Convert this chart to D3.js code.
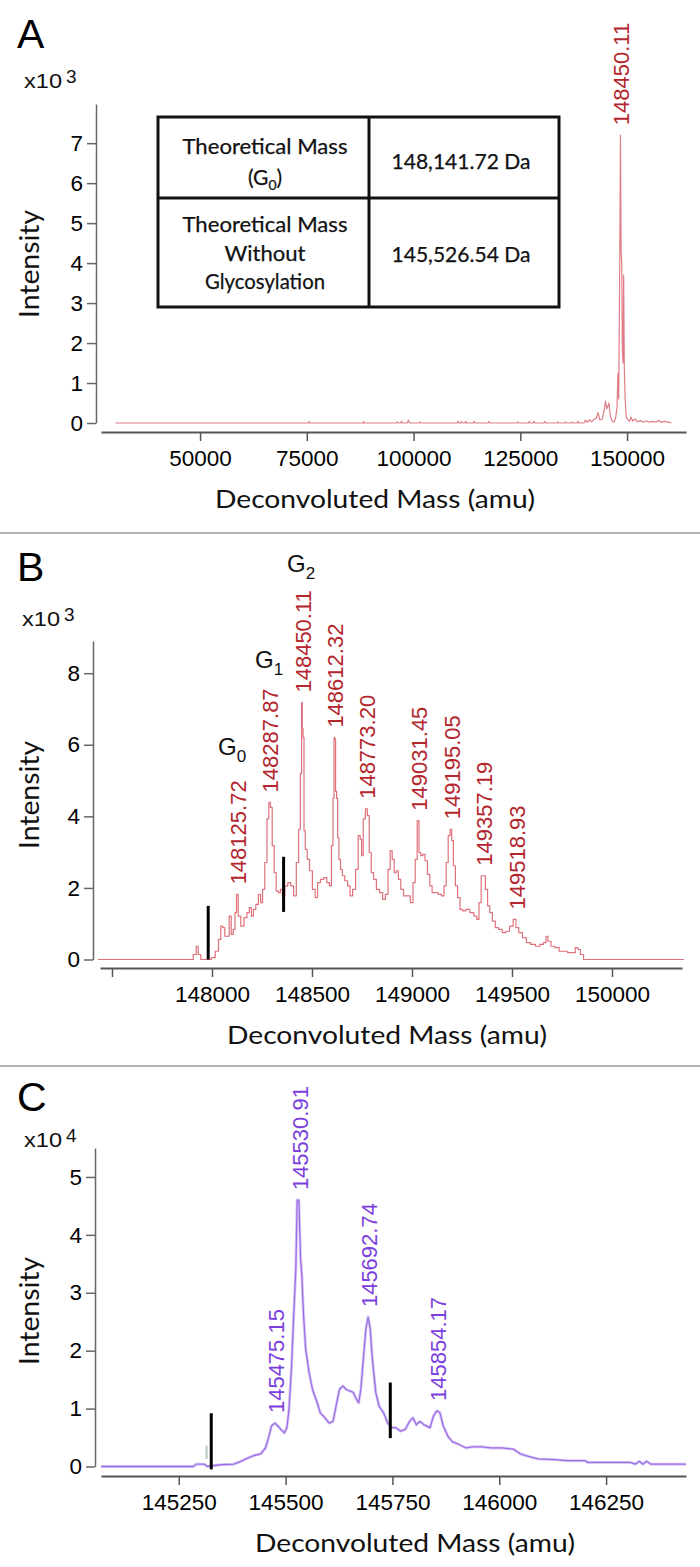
<!DOCTYPE html>
<html><head><meta charset="utf-8">
<script src="https://cdn.jsdelivr.net/npm/d3@7"></script>
<style>body{margin:0;background:#fff}svg{display:block}</style>
</head><body>
<script>
// ================= DATA =================
// Panel A: full deconvoluted spectrum (mass in amu, intensity in x10^3)
const massA = [30200,75400,75500,75600,88200,88300,88400,96000,96200,96400,97000,97200,97400,98500,98800,99100,101300,101500,101700,110200,110400,110600,111000,111200,111400,112000,112200,112400,114000,114200,114400,117400,117600,117800,124200,124400,124600,126900,127100,127300,128000,128200,128400,130500,130700,130900,133600,133800,134000,135400,135600,135800,136800,137000,137200,138300,138500,138700,139900,140200,140600,141200,141700,142300,142800,143200,143600,144200,144600,144950,145250,145500,145750,146050,146500,147000,147350,147650,147850,148050,148300,148450,148600,148750,148900,149050,149200,149350,149550,149800,150200,150600,150900,151300,151900,152500,153200,153800,154500,155200,156000,156800,157400,157900,158800,159600,160400];
const intA  = [0,0,0.04,0,0,0.04,0,0,0.03,0,0,0.04,0,0,0.07,0,0,0.03,0,0,0.04,0,0,0.04,0,0,0.04,0,0,0.04,0,0,0.04,0,0,0.03,0,0,0.04,0,0,0.04,0,0,0.04,0,0,0.03,0,0,0.03,0,0,0.03,0,0,0.04,0,0,0.07,0.02,0.08,0.03,0.1,0.12,0.26,0.08,0.1,0.3,0.55,0.35,0.42,0.5,0.2,0.04,0.03,0.15,0.4,1.25,0.6,4.2,7.2,4.3,4.0,1.8,1.5,3.7,1.4,0.6,0.15,0.08,0.04,0.15,0.05,0.1,0.03,0.06,0.02,0.05,0.02,0.04,0.02,0.07,0.02,0.04,0.02,0];
const peakMassA = [148450.11];
const peakIntA  = [7.2];
const yTicksA = [0,1,2,3,4,5,6,7];
const xTicksA = [50000,75000,100000,125000,150000];

// Panel B: zoom on intact glycoforms
const massB = [147429,147896,147916,147926,147936,147952,147986,148006,148026,148039,148049,148059,148069,148081,148091,148101,148111,148119,148126,148136,148152,148168,148181,148192,148202,148212,148226,148238,148248,148258,148270,148280,148288,148296,148306,148316,148326,148337,148347,148357,148371,148387,148401,148415,148428,148438,148446,148450,148453,148458,148462,148471,148481,148494,148510,148522,148534,148550,148566,148582,148592,148602,148608,148612,148616,148620,148626,148631,148638,148647,148657,148671,148685,148695,148711,148725,148737,148745,148751,148761,148773,148781,148791,148802,148814,148830,148846,148860,148874,148886,148896,148906,148916,148926,148938,148950,148965,148985,148999,149011,149021,149031,149039,149049,149059,149071,149083,149095,149106,149122,149140,149154,149166,149176,149186,149195,149202,149212,149222,149234,149246,149259,149279,149299,149319,149329,149341,149351,149361,149373,149383,149395,149409,149424,149442,149460,149478,149498,149514,149526,149542,149562,149581,149605,149629,149649,149665,149675,149685,149705,149724,149748,149768,149788,149808,149824,149836,149848,149868,150360];
const intB  = [0,0,0.14,0.37,0.14,0,0,0.05,0.23,0.56,0.93,0.89,0.65,0.65,1.21,0.70,0.84,1.31,1.82,1.21,0.93,1.17,1.31,1.45,1.21,1.40,1.54,1.82,1.59,1.96,2.71,3.93,4.39,4.25,3.18,2.43,1.92,1.87,1.96,1.78,2.06,2.15,2.06,1.78,2.71,3.64,5.2,7.18,6.45,6.2,3.6,3.08,2.80,2.48,1.96,1.73,2.15,2.24,2.29,2.15,2.06,3.18,4.5,6.2,6.15,4.7,4.5,3.4,2.80,2.52,2.34,2.20,2.06,1.78,1.96,2.52,3.46,3.36,2.90,3.93,4.21,4.02,2.99,2.43,2.24,1.96,1.87,1.68,1.82,2.52,3.04,2.80,2.43,2.48,2.24,1.96,1.78,1.78,1.59,2.15,2.80,3.88,2.99,2.90,2.94,2.76,2.38,2.06,1.87,1.87,1.82,1.78,2.06,2.71,3.46,3.64,3.32,2.62,2.06,1.73,1.40,1.36,1.40,1.31,1.21,1.12,1.59,2.34,2.34,1.96,1.50,1.31,1.07,0.89,0.84,0.75,0.79,0.93,1.12,0.89,0.75,0.61,0.47,0.42,0.37,0.42,0.47,0.65,0.51,0.37,0.33,0.23,0.23,0.19,0.19,0.33,0.28,0.14,0,0];
const peakMassB = [148125.72,148287.87,148450.11,148612.32,148773.20,149031.45,149195.05,149357.19,149518.93];
const peakIntB  = [1.82,4.39,7.18,6.2,4.21,3.88,3.64,2.34,1.12];
const peakTextB = ["148125.72","148287.87","148450.11","148612.32","148773.20","149031.45","149195.05","149357.19","149518.93"];
const glycoNames = ["0","1","2"];
const glycoMass  = [148030,148215,148375];
const glycoInt   = [5.71,8.14,10.83];
const markMassB = [147981,148358];
const markTopB  = [1.5,2.87];
const markBotB  = [0,1.33];
const yTicksB = [0,2,4,6,8];
const xTicksB = [147500,148000,148500,149000,149500,150000];

// Panel C: deglycosylated
const massC = [145068,145284,145291,145310,145317,145347,145379,145395,145410,145426,145442,145453,145461,145467,145475,145482,145489,145497,145503,145508,145514,145519,145524,145527,145531,145535,145538,145542,145547,145555,145563,145574,145581,145592,145602,145611,145618,145626,145634,145642,145651,145658,145666,145671,145676,145682,145688,145693,145698,145703,145711,145719,145729,145739,145748,145758,145769,145780,145790,145798,145806,145814,145824,145838,145846,145854,145861,145869,145880,145890,145906,145922,145938,145959,145980,146006,146033,146049,146070,146091,146128,146159,146201,146207,146307,146318,146328,146336,146345,146355,146437];
const intC  = [0,0,0.04,0.04,0,0.03,0.04,0.09,0.14,0.19,0.22,0.32,0.52,0.70,0.75,0.70,0.64,0.58,0.67,0.99,1.74,2.61,3.42,4.6,4.6,3.6,3.30,2.61,2.03,1.62,1.33,1.10,0.93,0.84,0.75,0.78,1.04,1.33,1.39,1.33,1.30,1.28,1.16,1.10,1.33,1.86,2.38,2.58,2.38,1.86,1.28,1.04,0.93,0.75,0.67,0.67,0.61,0.64,0.78,0.84,0.72,0.78,0.72,0.67,0.87,0.96,0.93,0.70,0.52,0.43,0.38,0.32,0.34,0.34,0.32,0.32,0.30,0.22,0.17,0.13,0.12,0.10,0.10,0.07,0.07,0.04,0.09,0.04,0.09,0.04,0.04];
const peakMassC = [145530.91,145692.74,145475.15,145854.17];
const peakIntC  = [4.6,2.58,0.75,0.96];
const peakTextC = ["145530.91","145692.74","145475.15","145854.17"];
const markMassC = [145326,145745];
const markTopC  = [0.92,1.45];
const markBotC  = [-0.05,0.49];
const grayMassC = [145315];
const grayTopC  = [0.36];
const grayBotC  = [0.13];
const yTicksC = [0,1,2,3,4,5];
const xTicksC = [145250,145500,145750,146000,146250];

const tableLeft1  = ["Theoretical Mass","(G|0|)"];
const tableLeft2  = ["Theoretical Mass","Without","Glycosylation"];
const tableRight  = ["148,141.72 Da","145,526.54 Da"];

// ================= DRAWING =================
const SANS = "'Liberation Sans', Arial, Helvetica, sans-serif";
const HUM = "Lato, 'Open Sans', sans-serif";
const svg = d3.select("body").append("svg").attr("width",700).attr("height",1567);

[533,1066].forEach(yy => svg.append("line").attr("x1",0).attr("x2",700)
  .attr("y1",yy).attr("y2",yy).attr("stroke","#9a9a9a").attr("stroke-width",1.5));

function panel(p){
  const g = svg.append("g");
  const x = d3.scaleLinear().domain(p.xDomain).range(p.xRange);
  const y = d3.scaleLinear().domain(p.yDomain).range(p.yRange);

  g.append("text").attr("x",17).attr("y",p.letterY).attr("font-family",SANS)
    .attr("font-size",41).attr("fill","#000").text(p.letter);
  g.append("text").attr("x",p.expX).attr("y",p.expY).attr("font-family",SANS)
    .attr("font-size",21).attr("fill","#111").attr("textLength",38).attr("lengthAdjust","spacingAndGlyphs").text("x10");
  g.append("text").attr("x",p.expX+42).attr("y",p.expY-5).attr("font-family",SANS)
    .attr("font-size",19).attr("fill","#111").text(p.exp);

  const ya = d3.axisLeft(y).tickValues(p.yTicks).tickSize(9).tickSizeOuter(0).tickPadding(4)
    .tickFormat(d3.format("d"));
  const yg = g.append("g").attr("transform",`translate(${p.yAxisX},0)`).call(ya);
  yg.attr("font-family",SANS).attr("font-size",22.5).attr("color","#666");
  yg.selectAll("path,line").attr("stroke-width",1.5);
  yg.selectAll("text").attr("fill","#000");

  const xa = d3.axisBottom(x).tickValues(p.xTicks).tickSize(9).tickSizeOuter(0).tickPadding(9)
    .tickFormat(d => d >= p.minXLabel ? String(d) : "");
  const xg = g.append("g").attr("transform",`translate(0,${p.xAxisY})`).call(xa);
  xg.attr("font-family",SANS).attr("font-size",22.5).attr("color","#555");
  xg.selectAll("path").attr("stroke-width",2);
  xg.selectAll("line").attr("stroke-width",1.5);
  xg.selectAll("text").attr("fill","#000");

  g.append("text").attr("x",p.xTitleX).attr("y",p.xAxisY+76).attr("text-anchor","middle")
    .attr("font-family",HUM).attr("font-size",25.5).attr("fill","#111")
    .attr("textLength",320).attr("lengthAdjust","spacingAndGlyphs").text("Deconvoluted Mass (amu)");
  g.append("text").attr("transform",`translate(39,${p.yTitleY}) rotate(-90)`).attr("text-anchor","middle")
    .attr("font-family",HUM).attr("font-size",26).attr("fill","#111")
    .attr("textLength",108).attr("lengthAdjust","spacingAndGlyphs").text("Intensity");

  const line = d3.line().x(d=>x(d[0])).y(d=>y(d[1])).curve(p.curve || d3.curveLinear);
  const pts = d3.zip(p.mass,p.int);
  if (p.halo) g.append("path").datum(pts).attr("d",line).attr("fill","none")
      .attr("stroke",p.halo).attr("stroke-width",3).attr("stroke-linejoin","round");
  g.append("path").datum(pts).attr("d",line).attr("fill","none")
    .attr("stroke",p.color).attr("stroke-width",p.lw).attr("stroke-linejoin","round");

  g.selectAll(".pk").data(d3.zip(p.peakMass,p.peakInt,p.peakText)).join("text")
    .attr("transform",d=>`translate(${x(d[0])},${y(d[1])-10}) rotate(-90)`)
    .attr("dy","0.4em").attr("font-family",SANS).attr("font-size",22)
    .attr("fill",p.labelColor).text(d=>d[2]);

  if (p.markMass) g.selectAll(".mk").data(d3.zip(p.markMass,p.markTop,p.markBot)).join("line")
    .attr("x1",d=>x(d[0])).attr("x2",d=>x(d[0])).attr("y1",d=>y(d[1])).attr("y2",d=>y(d[2]))
    .attr("stroke","#000").attr("stroke-width",3);
  return {g,x,y};
}

// ---- Panel A ----
const A = panel({letter:"A",letterY:48,exp:"3",expX:24,expY:88,
  xDomain:[26800,163800],xRange:[101,686],yDomain:[0,7.98],yRange:[423,104],
  yAxisX:96,xAxisY:432,xTicks:xTicksA,yTicks:yTicksA,minXLabel:0,
  xTitleX:375,yTitleY:264,mass:massA,int:intA,color:"#e07e86",lw:1.2,
  peakMass:peakMassA,peakInt:peakIntA,peakText:peakMassA.map(d=>d.toFixed(2)),labelColor:"#b3262d"});

// table
const tb = A.g.append("g");
const tx0=158, tx1=559, tmid=369, ty0=117, ty1=198, ty2=307;
tb.append("rect").attr("x",tx0).attr("y",ty0).attr("width",tx1-tx0).attr("height",ty2-ty0)
  .attr("fill","#fff").attr("stroke","#111").attr("stroke-width",3);
tb.append("line").attr("x1",tx0).attr("x2",tx1).attr("y1",ty1).attr("y2",ty1).attr("stroke","#111").attr("stroke-width",3);
tb.append("line").attr("x1",tmid).attr("x2",tmid).attr("y1",ty0).attr("y2",ty2).attr("stroke","#111").attr("stroke-width",3);
const leftRows = [tableLeft1, tableLeft2];
const rowBase = [[154,185],[232,261,289]];
const rowWidth = {"Theoretical Mass":165,"Without":81,"Glycosylation":120};
const rightBase = [169,262];
function tText(x,y){ return tb.append("text").attr("x",x).attr("y",y).attr("text-anchor","middle")
  .attr("font-family",HUM).attr("font-size",21).attr("fill","#111")
  .attr("stroke","#111").attr("stroke-width",0.25); }
leftRows.forEach((rows,i)=>{
  rows.forEach((s,j)=>{
    const t = tText(265,rowBase[i][j]);
    if (s.includes("|")) {
      const parts = s.split("|");
      t.append("tspan").text(parts[0]);
      t.append("tspan").attr("font-size",14).attr("dy",5).text(parts[1]);
      t.append("tspan").attr("dy",-5).text(parts[2]);
    } else t.attr("textLength",rowWidth[s]).attr("lengthAdjust","spacingAndGlyphs").text(s);
  });
  tText(461,rightBase[i]).attr("textLength",139).attr("lengthAdjust","spacingAndGlyphs").text(tableRight[i]);
});

// ---- Panel B ----
const B = panel({letter:"B",letterY:581,exp:"3",expX:22,expY:626,
  xDomain:[147440,150350],xRange:[100,682],yDomain:[0,8.9],yRange:[959.5,641],
  yAxisX:93,xAxisY:968,xTicks:xTicksB,yTicks:yTicksB,minXLabel:148000,
  xTitleX:387,yTitleY:795,mass:massB,int:intB,color:"#de727b",lw:1.2,curve:d3.curveStep,
  peakMass:peakMassB,peakInt:peakIntB,peakText:peakTextB,labelColor:"#b3262d",
  markMass:markMassB,markTop:markTopB,markBot:markBotB});
B.g.selectAll(".gl").data(d3.zip(glycoNames,glycoMass,glycoInt)).join("text")
  .attr("x",d=>B.x(d[1])).attr("y",d=>B.y(d[2])).attr("font-family",SANS).attr("font-size",24)
  .attr("fill","#111")
  .each(function(d){
    const t=d3.select(this);
    t.append("tspan").text("G");
    t.append("tspan").attr("font-size",17).attr("dy",7).text(d[0]);
  });

// ---- Panel C ----
const C = panel({letter:"C",letterY:1111,exp:"4",expX:24,expY:1147,
  xDomain:[145068,146437],xRange:[101,686],yDomain:[0,5.5],yRange:[1466.5,1148],
  yAxisX:95,xAxisY:1476,xTicks:xTicksC,yTicks:yTicksC,minXLabel:0,
  xTitleX:415,yTitleY:1311,mass:massC,int:intC,color:"#9d6fe4",lw:1.3,halo:"#dccbf8",
  peakMass:peakMassC,peakInt:peakIntC,peakText:peakTextC,labelColor:"#7b3fde",
  markMass:markMassC,markTop:markTopC,markBot:markBotC});
C.g.selectAll(".gm").data(d3.zip(grayMassC,grayTopC,grayBotC)).join("line")
  .attr("x1",d=>C.x(d[0])).attr("x2",d=>C.x(d[0])).attr("y1",d=>C.y(d[1])).attr("y2",d=>C.y(d[2]))
  .attr("stroke","#b8c4c4").attr("stroke-width",2);
</script>
</body></html>
